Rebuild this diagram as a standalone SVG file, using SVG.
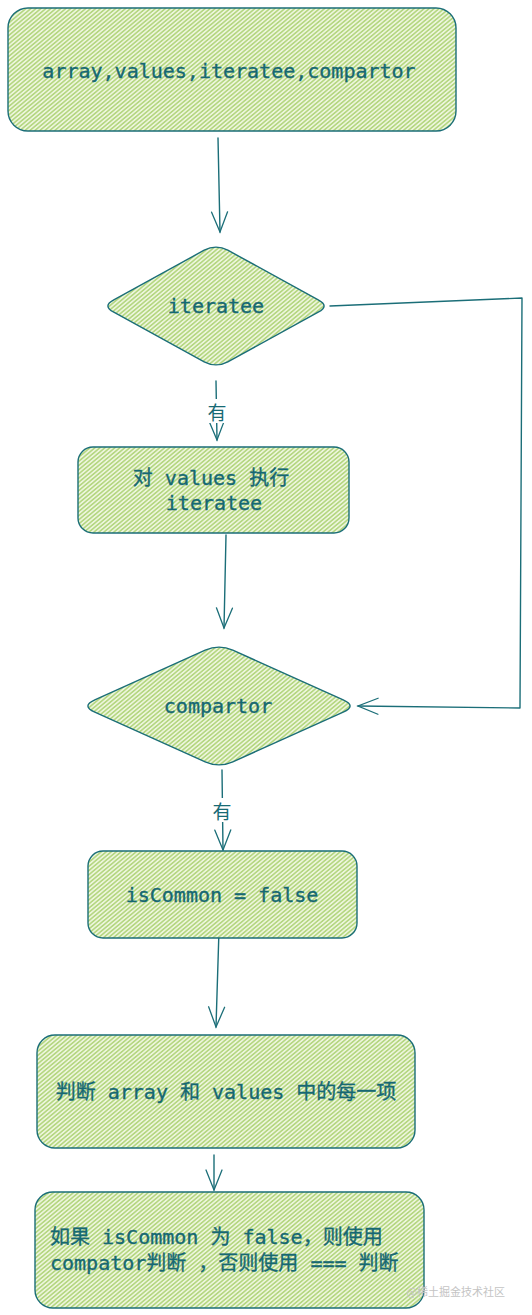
<svg xmlns="http://www.w3.org/2000/svg" width="532" height="1315" viewBox="0 0 532 1315">
<defs>
<pattern id="hatch" patternUnits="userSpaceOnUse" width="3.2" height="3.2" patternTransform="rotate(-40)">
<rect width="3.2" height="3.2" fill="#ecf5db"/>
<line x1="0" y1="0.8" x2="3.2" y2="0.8" stroke="#a3ce64" stroke-width="1.2"/>
</pattern>
<marker id="arr" viewBox="-22 -10 24 20" refX="0" refY="0" markerWidth="24" markerHeight="20" markerUnits="userSpaceOnUse" orient="auto">
<path d="M -20 -8 L 0 0 L -20 8" fill="none" stroke="#1b6e78" stroke-width="1.3" stroke-linecap="round"/>
</marker>
</defs>
<style>
.node{fill:url(#hatch);stroke:#1b6e78;stroke-width:1.4}
.t{font-family:"DejaVu Sans Mono","Liberation Mono","Noto Sans CJK SC",monospace;font-size:20px;fill:#166872;stroke:#166872;stroke-width:0.35}
.c{text-anchor:middle;dominant-baseline:central}
.edge{fill:none;stroke:#1b6e78;stroke-width:1.4;stroke-linecap:round;stroke-linejoin:round}
.lbl{font-family:"Noto Sans CJK SC",sans-serif;font-size:19px;fill:#176a74;text-anchor:middle;dominant-baseline:central}
</style>
<rect width="532" height="1315" fill="#ffffff"/>

<g id="connectors">
<path class="edge" d="M 218 138 L 220 232" marker-end="url(#arr)"/>
<path class="edge" d="M 330 306 L 522 298 L 520 708 L 358 706" marker-end="url(#arr)"/>
<path class="edge" d="M 216 381 L 217 440" marker-end="url(#arr)"/>
<rect x="204" y="399" width="26" height="24" fill="#ffffff"/>
<text class="lbl" x="217" y="411">有</text>
<path class="edge" d="M 226 535 L 224 628" marker-end="url(#arr)"/>
<path class="edge" d="M 222 770 L 223 850" marker-end="url(#arr)"/>
<rect x="209" y="798" width="26" height="24" fill="#ffffff"/>
<text class="lbl" x="222" y="810">有</text>
<path class="edge" d="M 219 930 L 216 1027" marker-end="url(#arr)"/>
<path class="edge" d="M 214 1155 L 214 1190" marker-end="url(#arr)"/>
</g>

<g id="n-input">
<rect class="node" x="8" y="8" width="448" height="123" rx="20"/>
<text class="t c" x="229" y="71">array,values,iteratee,compartor</text>
</g>

<g id="n-iteratee">
<path class="node" d="M 227.8,250.2 L 318.2,299.8 Q 330,306 318.2,312.2 L 227.8,361.8 Q 216,368 204.2,361.8 L 113.8,312.2 Q 102,306 113.8,299.8 L 204.2,250.2 Q 216,244 227.8,250.2 Z"/>
<text class="t c" x="216" y="306">iteratee</text>
</g>

<g id="n-exec">
<rect class="node" x="78" y="447" width="271" height="86" rx="15"/>
<text class="t c" x="211" y="478">对 values 执行</text>
<text class="t c" x="214" y="503">iteratee</text>
</g>

<g id="n-compartor">
<path class="node" d="M 232.8,650.2 L 343.2,699.8 Q 357,706 343.2,712.2 L 232.8,761.8 Q 219,768 205.2,761.8 L 94.8,712.2 Q 81,706 94.8,699.8 L 205.2,650.2 Q 219,644 232.8,650.2 Z"/>
<text class="t c" x="218" y="706">compartor</text>
</g>

<g id="n-iscommon">
<rect class="node" x="88" y="851" width="269" height="87" rx="15"/>
<text class="t c" x="222" y="895">isCommon = false</text>
</g>

<g id="n-judge">
<rect class="node" x="37" y="1035" width="378" height="113" rx="18"/>
<text class="t c" x="226" y="1092">判断 array 和 values 中的每一项</text>
</g>

<g id="n-result">
<rect class="node" x="35" y="1192" width="389" height="116" rx="18"/>
<text class="t" x="50" y="1244">如果 isCommon 为 false，则使用</text>
<text class="t" x="50" y="1270">compator判断 ，否则使用 === 判断</text>
</g>

<text x="505" y="1296" text-anchor="end" font-family="Noto Sans CJK SC, sans-serif" font-size="11" fill="#c4c4c4">@稀土掘金技术社区</text>
</svg>
